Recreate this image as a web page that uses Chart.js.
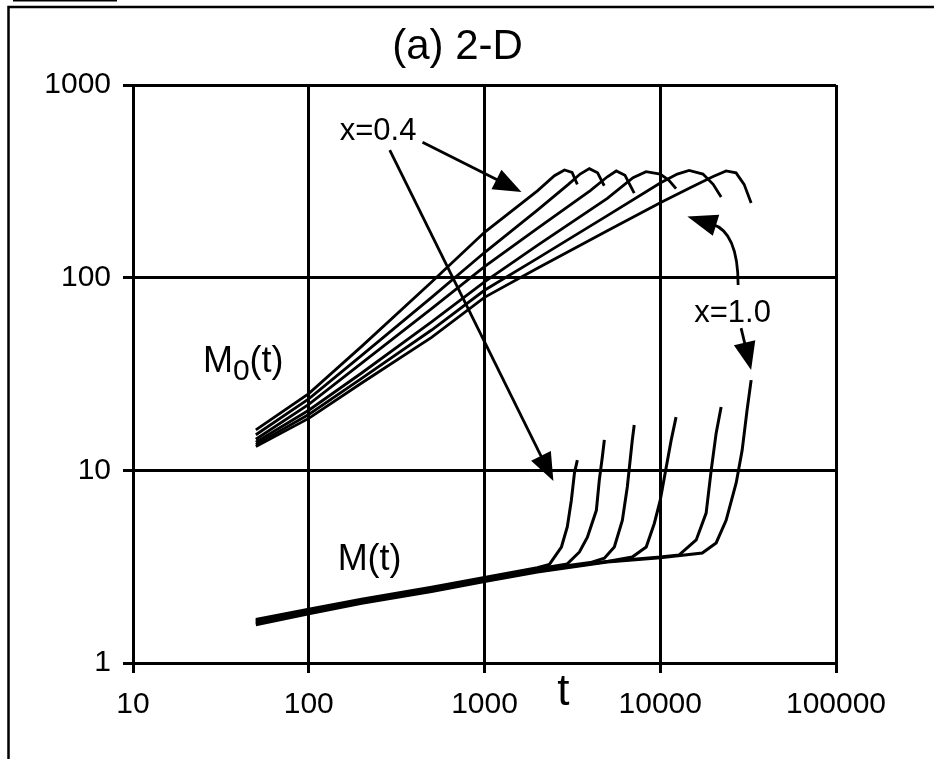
<!DOCTYPE html>
<html>
<head>
<meta charset="utf-8">
<script src="https://cdn.jsdelivr.net/npm/chart.js@4.4.0/dist/chart.umd.min.js"></script>
<style>
  html, body { margin: 0; padding: 0; background: #fff; }
  canvas { display: block; }
</style>
</head>
<body>
<canvas id="chart" width="934" height="759"></canvas>
<script>
// axis ticks
const xTicks = [10, 100, 1000, 10000, 100000];
const yTicks = [1, 10, 100, 1000];

// one curve per concentration x
const concentrations = ['0.4', '0.5', '0.6', '0.7', '0.8', '1.0'];

// M0(t): number of clusters
const m0Times = [
    [50, 100, 200, 500, 1000, 2000, 2500, 2850, 3150, 3375],
    [50, 100, 200, 500, 1000, 2000, 3000, 3500, 3950, 4400, 4800],
    [50, 100, 200, 500, 1000, 2000, 4000, 5000, 5620, 6300, 7110],
    [50, 100, 200, 500, 1000, 2000, 5000, 7000, 8300, 10000, 11200, 12300],
    [50, 100, 200, 500, 1000, 2000, 5000, 10000, 12500, 14600, 17500, 20000, 22200],
    [50, 100, 200, 500, 1000, 2000, 5000, 10000, 15000, 20000, 23700, 27000, 30000, 32900]
];
const m0Values = [
    [16.2, 25, 44, 95, 172, 282, 338, 362, 352, 305],
    [15.3, 23.5, 39.5, 79, 135, 224, 305, 345, 368, 350, 300],
    [14.5, 22, 36, 69, 114, 180, 283, 334, 358, 340, 275],
    [14.0, 20.5, 32, 59, 95, 147, 258, 330, 355, 345, 320, 290],
    [13.6, 19.5, 30, 53.5, 86, 126, 210, 310, 345, 360, 345, 305, 262],
    [13.3, 18.6, 28.4, 49, 79, 112, 175, 245, 295, 335, 358, 350, 305, 244]
];

// M(t): mean cluster size
const mTimes = [
    [50, 100, 200, 500, 1000, 2000, 2340, 2740, 2960, 3120, 3250, 3375],
    [50, 100, 200, 500, 1000, 2000, 2960, 3470, 3850, 4330, 4500, 4680, 4808],
    [50, 100, 200, 500, 1000, 2000, 4000, 4808, 5480, 6085, 6494, 6930, 7110],
    [50, 100, 200, 500, 1000, 2000, 5000, 6930, 8320, 9250, 10000, 10820, 11550, 12300],
    [50, 100, 200, 500, 1000, 2000, 5000, 10000, 12820, 16020, 18240, 19490, 20800, 22200],
    [50, 100, 200, 500, 1000, 2000, 5000, 10000, 17340, 20800, 23700, 27040, 29240, 31200, 32900]
];
const mValues = [
    [1.68, 1.9, 2.14, 2.47, 2.78, 3.12, 3.25, 4.0, 5.1, 7.0, 9.7, 11.3],
    [1.66, 1.88, 2.12, 2.44, 2.75, 3.08, 3.27, 3.77, 4.5, 6.2, 8.9, 11.7, 14.4],
    [1.64, 1.86, 2.1, 2.41, 2.72, 3.05, 3.32, 3.5, 4.0, 5.5, 8.2, 14.3, 17.2],
    [1.62, 1.84, 2.08, 2.39, 2.69, 3.02, 3.36, 3.55, 4.0, 5.3, 7.0, 10.4, 14.4, 18.9],
    [1.6, 1.82, 2.06, 2.37, 2.67, 2.99, 3.36, 3.55, 3.64, 4.35, 6.0, 10.0, 15.6, 21.3],
    [1.58, 1.8, 2.04, 2.35, 2.65, 2.97, 3.34, 3.52, 3.72, 4.2, 5.5, 8.6, 12.7, 20.6, 29.4]
];

const FONT = '"Liberation Sans", Arial, Helvetica, sans-serif';

function toPoints(times, values) {
    return times.map((t, i) => ({ x: t, y: values[i] }));
}

const datasets = [];
concentrations.forEach((c, i) => {
    datasets.push({ label: 'M0(t) x=' + c, data: toPoints(m0Times[i], m0Values[i]), borderWidth: 2.8 });
    datasets.push({ label: 'M(t) x=' + c, data: toPoints(mTimes[i], mValues[i]), borderWidth: 3 });
});
datasets.forEach(d => {
    d.showLine = true;
    d.borderColor = '#000';
    d.pointRadius = 0;
    d.fill = false;
});

function arrowHead(ctx, tipX, tipY, angle, len, halfW) {
    const bx = tipX - len * Math.cos(angle), by = tipY - len * Math.sin(angle);
    const nx = -Math.sin(angle) * halfW, ny = Math.cos(angle) * halfW;
    ctx.beginPath();
    ctx.moveTo(tipX, tipY);
    ctx.lineTo(bx + nx, by + ny);
    ctx.lineTo(bx - nx, by - ny);
    ctx.closePath();
    ctx.fill();
}

function straightArrow(ctx, x0, y0, x1, y1) {
    const a = Math.atan2(y1 - y0, x1 - x0);
    ctx.beginPath();
    ctx.moveTo(x0, y0);
    ctx.lineTo(x1 - 20 * Math.cos(a), y1 - 20 * Math.sin(a));
    ctx.stroke();
    arrowHead(ctx, x1, y1, a, 28, 11);
}

const decorations = {
    id: 'decorations',
    afterDraw(chart) {
        const ctx = chart.ctx;
        const px = t => chart.scales.x.getPixelForValue(t);
        const py = v => chart.scales.y.getPixelForValue(v);
        ctx.save();
        ctx.strokeStyle = '#000';
        ctx.fillStyle = '#000';

        // page frame
        ctx.lineWidth = 2.5;
        ctx.beginPath();
        ctx.moveTo(8.5, 759);
        ctx.lineTo(8.5, 7);
        ctx.lineTo(934, 7);
        ctx.stroke();
        ctx.lineWidth = 2;
        ctx.beginPath();
        ctx.moveTo(13, 0.5);
        ctx.lineTo(117, 0.5);
        ctx.stroke();

        // title and axis title
        ctx.textAlign = 'center';
        ctx.textBaseline = 'alphabetic';
        ctx.font = '42px ' + FONT;
        ctx.fillText('(a) 2-D', px(703), py(1362));
        ctx.font = '44px ' + FONT;
        ctx.fillText('t', px(2812), py(0.605));

        // curve labels
        ctx.textAlign = 'left';
        ctx.font = '36px ' + FONT;
        let x = px(25), y = py(32.4);
        ctx.fillText('M', x, y);
        x += ctx.measureText('M').width;
        ctx.font = '30px ' + FONT;
        ctx.fillText('0', x, y + 8);
        x += ctx.measureText('0').width;
        ctx.font = '36px ' + FONT;
        ctx.fillText('(t)', x, y);
        ctx.fillText('M(t)', px(146), py(3.04));

        ctx.font = '31px ' + FONT;
        ctx.fillText('x=0.4', px(150), py(518));
        ctx.fillText('x=1.0', px(15600), py(58.8));

        // arrows
        ctx.lineWidth = 2.8;
        straightArrow(ctx, px(444), py(505), px(1623), py(278));
        straightArrow(ctx, px(289), py(459), px(2466), py(8.8));
        straightArrow(ctx, px(28840), py(54.7), px(32890), py(33.2));

        const p0x = px(27740), p0y = py(91.5);
        const cx = px(27740), cy = py(172.4);
        const p2x = px(19750), p2y = py(189.7);
        ctx.beginPath();
        ctx.moveTo(p0x, p0y);
        ctx.quadraticCurveTo(cx, cy, p2x, p2y);
        ctx.stroke();
        const a = Math.atan2(p2y - cy, p2x - cx);
        arrowHead(ctx, p2x + 26 * Math.cos(a), p2y + 26 * Math.sin(a), a, 30, 11);

        ctx.restore();
    }
};

const axisCommon = {
    type: 'logarithmic',
    grid: { color: '#000', lineWidth: 3, tickLength: 10, tickColor: '#000' },
    border: { color: '#000', width: 3 },
};

const ctx = document.getElementById('chart').getContext('2d');
const chart = new Chart(ctx, {
    type: 'scatter',
    data: { datasets: datasets },
    options: {
        responsive: false,
        animation: false,
        devicePixelRatio: 1,
        layout: { padding: { left: 0, right: 98, top: 85, bottom: 0 } },
        plugins: {
            legend: { display: false },
            tooltip: { enabled: false },
        },
        scales: {
            x: Object.assign({}, axisCommon, {
                min: 10,
                max: 100000,
                afterBuildTicks: s => { s.ticks = xTicks.map(v => ({ value: v })); },
                afterFit: s => { s.height = 96; },
                ticks: {
                    color: '#000', padding: 14, autoSkip: false, maxRotation: 0,
                    font: { size: 30, family: FONT },
                    callback: v => String(v),
                },
            }),
            y: Object.assign({}, axisCommon, {
                min: 1,
                max: 1000,
                afterBuildTicks: s => { s.ticks = yTicks.map(v => ({ value: v })); },
                afterFit: s => { s.width = 133; },
                ticks: {
                    color: '#000', padding: 12, autoSkip: false,
                    font: { size: 30, family: FONT },
                    callback: v => String(v),
                },
            }),
        },
    },
    plugins: [decorations],
});
</script>
</body>
</html>
